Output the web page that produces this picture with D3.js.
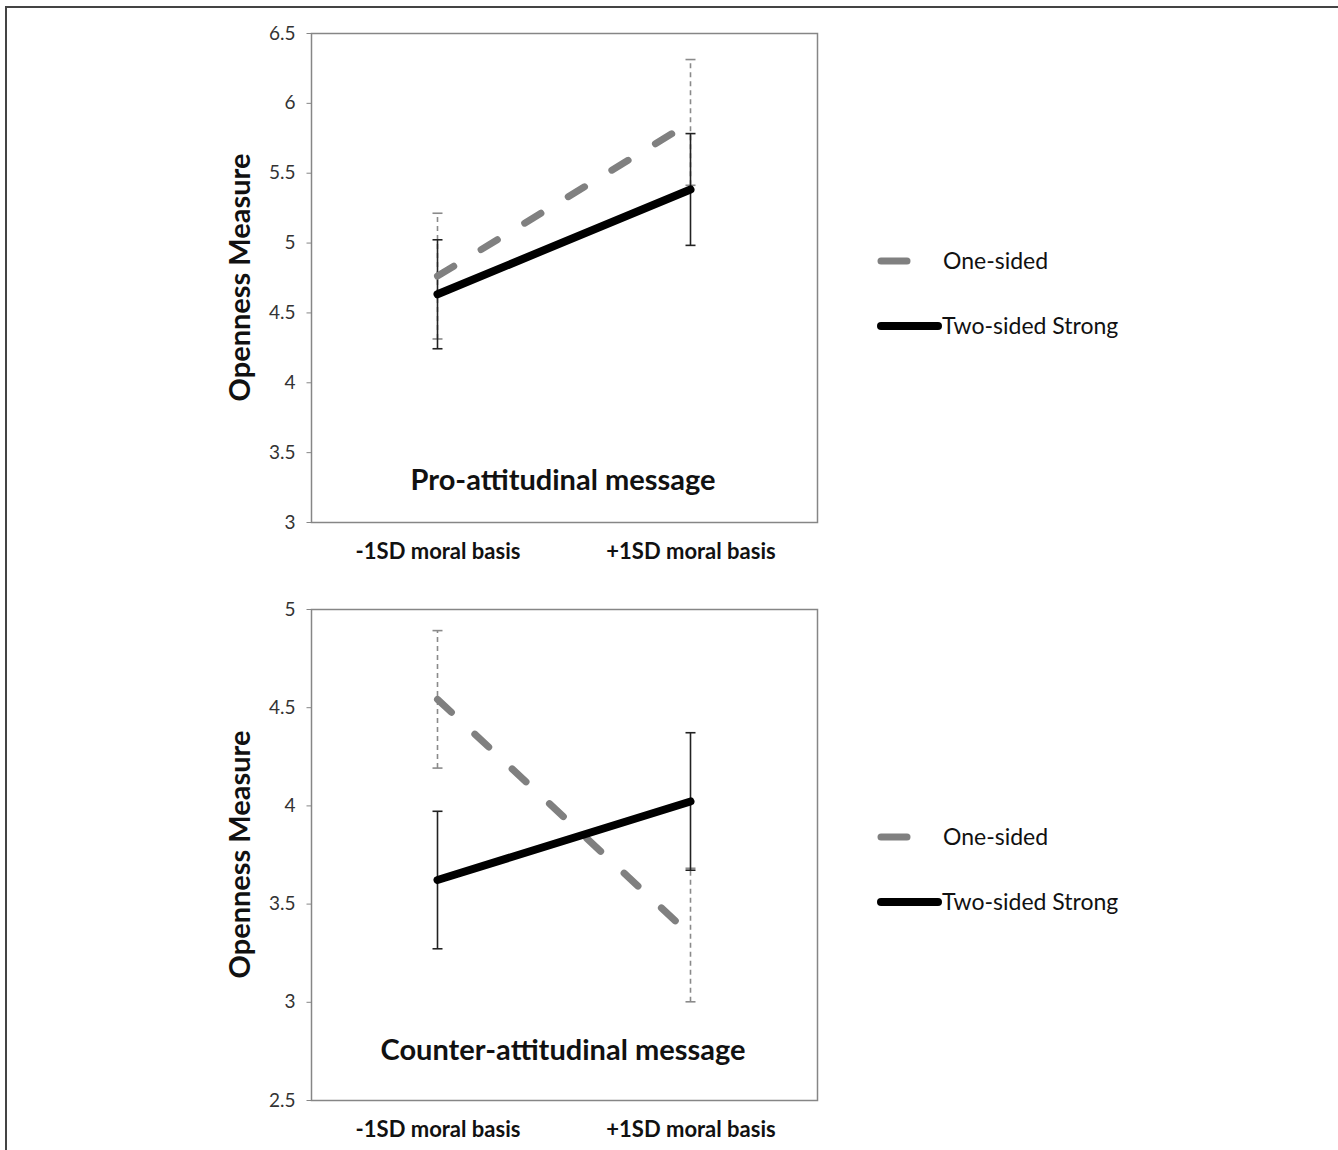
<!DOCTYPE html>
<html>
<head>
<meta charset="utf-8">
<script src="https://cdn.jsdelivr.net/npm/d3@7"></script>
<style>
    body { margin: 0; background: #fff; }
    svg { display: block; font-family: Lato, "Open Sans", sans-serif; }
    .frame { fill: none; stroke: #444; }
    .axis path, .axis line { stroke: #868686; }
    .axis.y text { fill: #333; font-size: 19px; font-family: Lato, sans-serif; }
    .axis.x text { font-size: 22px; font-weight: bold; fill: #111; font-family: Lato, sans-serif; }
    .ytitle { font-size: 29px; font-weight: bold; fill: #111; }
    .ptitle { font-size: 29px; font-weight: bold; fill: #111; }
    .legend text { font-size: 23px; fill: #111; }
</style>
</head>
<body>
<div id="chart"></div>
<script>
// Data.
var categories = ['-1SD moral basis', '+1SD moral basis'];
var seriesNames = ['One-sided', 'Two-sided Strong'];

var proTicks = [3, 3.5, 4, 4.5, 5, 5.5, 6, 6.5];
var proOneSided = [4.76, 5.86];
var proOneSidedErr = [0.45, 0.45];
var proTwoSided = [4.63, 5.38];
var proTwoSidedErr = [0.39, 0.40];

var counterTicks = [2.5, 3, 3.5, 4, 4.5, 5];
var counterOneSided = [4.54, 3.34];
var counterOneSidedErr = [0.35, 0.34];
var counterTwoSided = [3.62, 4.02];
var counterTwoSidedErr = [0.35, 0.35];

var Plot = Plot || {};

Plot.svg = d3.select('#chart').append('svg')
    .attr('width', 1338)
    .attr('height', 1150);

// Thin frame along the top and left edge of the figure.
Plot.svg.append('path')
    .attr('class', 'frame')
    .attr('stroke-width', 2)
    .attr('d', 'M6,1150V7H1338');

// Draw one panel: box, axes, error bars, lines, legend.
Plot.panel = function(opt) {
    var left = 311, right = 817;
    var g = Plot.svg.append('g');

    var x = d3.scalePoint().domain(categories).range([left, right]).padding(0.5);
    var y = d3.scaleLinear().domain(d3.extent(opt.ticks)).range([opt.bottom, opt.top]);

    // Plot box.
    g.append('rect')
        .attr('x', left + 0.5).attr('y', opt.top + 0.5)
        .attr('width', right - left).attr('height', opt.bottom - opt.top)
        .attr('fill', 'none').attr('stroke', '#868686').attr('stroke-width', 1.5);

    var yAxis = g.append('g')
        .attr('class', 'axis y')
        .attr('transform', 'translate(' + (left + 0.5) + ',0)')
        .call(d3.axisLeft(y).tickValues(opt.ticks).tickSize(5).tickPadding(11).tickFormat(d3.format('')));
    yAxis.attr('font-family', null).attr('font-size', null);
    yAxis.select('.domain').remove();

    var xAxis = g.append('g')
        .attr('class', 'axis x')
        .attr('transform', 'translate(0,' + opt.bottom + ')')
        .call(d3.axisBottom(x).tickSize(0).tickPadding(21));
    xAxis.attr('font-family', null).attr('font-size', null);
    xAxis.select('.domain').remove();

    // Axis title and panel title.
    g.append('text')
        .attr('class', 'ytitle')
        .attr('transform', 'translate(250,' + ((opt.top + opt.bottom) / 2) + ') rotate(-90)')
        .attr('text-anchor', 'middle')
        .text('Openness Measure');
    g.append('text')
        .attr('class', 'ptitle')
        .attr('x', 563).attr('y', opt.bottom - opt.titleOffset)
        .attr('text-anchor', 'middle')
        .text(opt.title);

    var rows = [
        {vals: opt.one, err: opt.oneErr, color: '#808080', width: 7, dash: '19,32', errDash: '5,4', errColor: '#8a8a8a'},
        {vals: opt.two, err: opt.twoErr, color: '#000', width: 8, dash: null, errDash: null, errColor: '#222'}
    ];

    // Error bars under the lines.
    rows.forEach(function(r) {
        var eb = g.append('g');
        r.vals.forEach(function(v, i) {
            var cx = x(categories[i]);
            eb.append('line')
                .attr('x1', cx).attr('x2', cx)
                .attr('y1', y(v - r.err[i])).attr('y2', y(v + r.err[i]))
                .attr('stroke', r.errColor).attr('stroke-width', 1.6)
                .attr('stroke-dasharray', r.errDash);
            [v - r.err[i], v + r.err[i]].forEach(function(e) {
                eb.append('line')
                    .attr('x1', cx - 5).attr('x2', cx + 5)
                    .attr('y1', y(e)).attr('y2', y(e))
                    .attr('stroke', r.errColor).attr('stroke-width', 1.6);
            });
        });
    });

    var line = d3.line()
        .x(function(d, i) { return x(categories[i]); })
        .y(function(d) { return y(d); });

    rows.forEach(function(r) {
        g.append('path')
            .attr('d', line(r.vals))
            .attr('fill', 'none')
            .attr('stroke', r.color)
            .attr('stroke-width', r.width)
            .attr('stroke-linecap', 'round')
            .attr('stroke-dasharray', r.dash);
    });

    // Legend to the right of the plot.
    var lg = g.append('g').attr('class', 'legend');
    var ly = [opt.top + 228, opt.top + 293];
    lg.append('line')
        .attr('x1', 881).attr('x2', 907).attr('y1', ly[0]).attr('y2', ly[0])
        .attr('stroke', '#808080').attr('stroke-width', 7).attr('stroke-linecap', 'round');
    lg.append('line')
        .attr('x1', 881).attr('x2', 938).attr('y1', ly[1]).attr('y2', ly[1])
        .attr('stroke', '#000').attr('stroke-width', 8).attr('stroke-linecap', 'round');
    lg.selectAll('text')
        .data(seriesNames)
        .enter().append('text')
        .attr('x', function(d, i) { return i === 0 ? 943 : 942; })
        .attr('y', function(d, i) { return ly[i]; })
        .attr('dy', '0.35em')
        .text(function(d) { return d; });
};

Plot.panel({
    top: 33, bottom: 522, ticks: proTicks, title: 'Pro-attitudinal message', titleOffset: 32,
    one: proOneSided, oneErr: proOneSidedErr, two: proTwoSided, twoErr: proTwoSidedErr
});
Plot.panel({
    top: 609, bottom: 1100, ticks: counterTicks, title: 'Counter-attitudinal message', titleOffset: 40,
    one: counterOneSided, oneErr: counterOneSidedErr, two: counterTwoSided, twoErr: counterTwoSidedErr
});
</script>
</body>
</html>
